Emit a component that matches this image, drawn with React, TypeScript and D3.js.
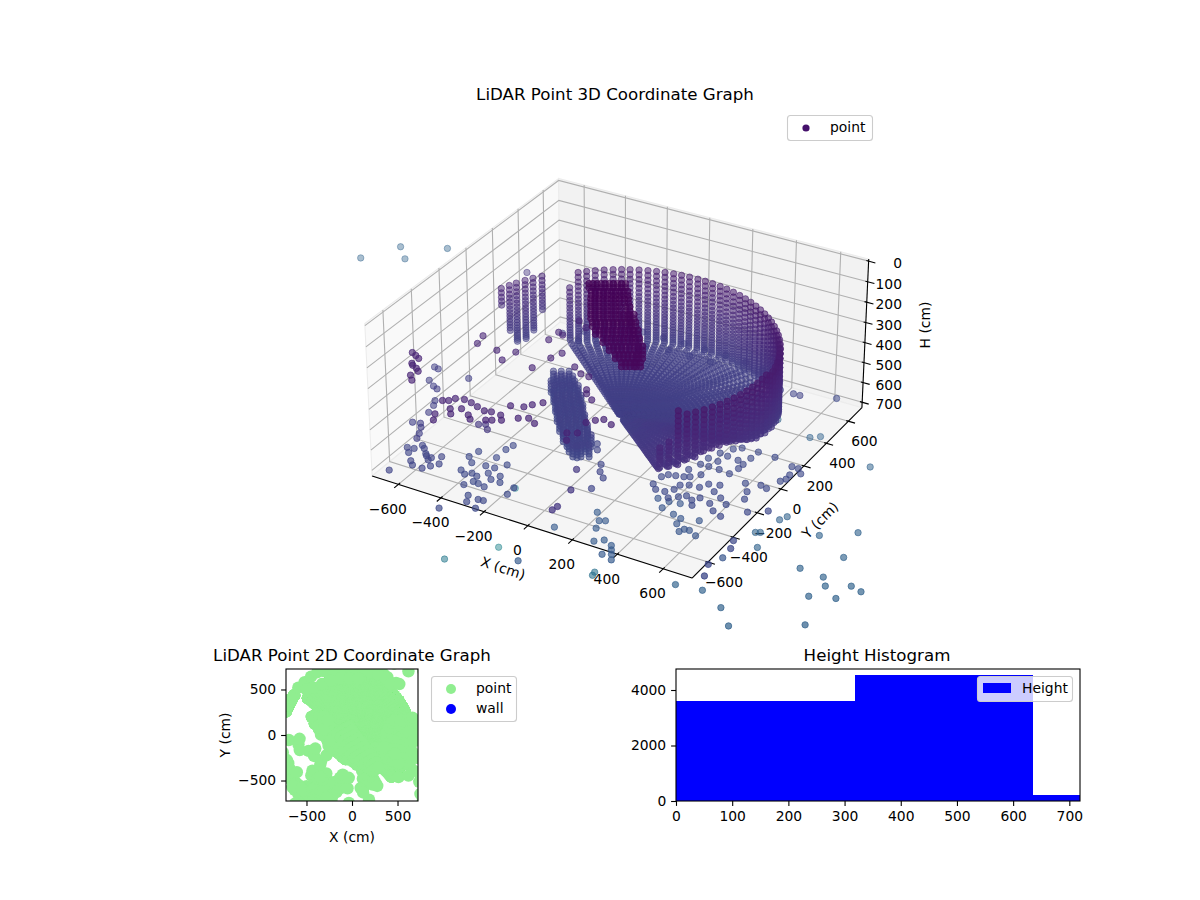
import React, { useRef, useEffect } from "react";
import * as d3 from "d3";

type Point = number[];

const atH = (h: number, xy: number[][]): Point[] => xy.map(([x, y]) => [x, y, h]);

const leftPurple = atH(300, [[-732,-400],[-707,-413],[-684,-427],[-686,-473],[-675,-484],[-649,-497],[-630,-513],[-639,-554],[-613,-584]]);
const leftBlue = atH(600, [[-867,-46],[-845,-52],[-826,-149],[-785,-180],[-760,-192],[-694,-55],[-716,-275],[-700,-310],[-687,-366],[-701,-463],[-669,-454],[-650,-479],[-617,-559],[-630,-522]]);
const leftFloor = atH(650, [[-656,-572],[-630,-602],[-588,-650],[-565,-673],[-519,-674],[-499,-644],[-478,-614],[-499,-563],[-530,-590],[-566,-575],[-612,-529],[-593,-545],[-628,-565],[-555,-587],[-532,-610],[-623,-751]]);
const midFloor = atH(700, [[-447,-444],[-413,-478],[-435,-392],[-420,-546],[-391,-565],[-370,-544],[-341,-554],[-352,-632],[-332,-594],[-307,-597],[-352,-470],[-314,-512],[-313,-466],[-348,-396],[-261,-508],[-280,-546],[-237,-548],[-274,-606],[-169,-554],[-282,-422],[-166,-607],[-245,-696],[-295,-690],[-275,-732],[-220,-755],[-343,-825],[-223,-693],[-348,-325],[-339,-284]]);
const purpleBand = atH(330, [[-450,-616],[-429,-604],[-415,-578],[-390,-654],[-367,-686],[-380,-567],[-344,-574],[-352,-632],[-304,-659],[-307,-588],[-267,-601],[-239,-594],[-195,-597],[-225,-658],[-204,-646],[-172,-628],[-281,-682],[-420,-716],[-400,-758],[-199,-518],[-124,-583],[-89,-563],[-49,-585],[-150,-499],[-130,-469],[-102,-435],[-477,-174],[-417,-230]]);
const bandBlue = atH(500, [[-377,-476],[-326,-492],[-353,-462],[-876,702],[130,-572],[187,-710],[198,-866],[203,-836]]);
const moundOuter = [[-440,198],[-412,214],[-384,230],[-408,126],[-380,142],[-352,158],[-324,174],[-358,64],[-330,80],[-302,96],[-274,112],[-312,1],[-284,17],[-256,33],[-228,49],[-266,-62],[-238,-46],[-210,-30],[-182,-14],[-217,-124],[-189,-108],[-161,-92],[-133,-76],[-164,-184],[-136,-168],[-108,-152],[-80,-136],[-104,-239],[-76,-223],[-48,-207],[-53,-263]];
const moundInner = [[-407,172],[-379,188],[-351,204],[-375,100],[-347,116],[-319,132],[-291,148],[-325,38],[-297,54],[-269,70],[-241,86],[-279,-25],[-251,-9],[-223,7],[-195,23],[-233,-88],[-205,-72],[-177,-56],[-149,-40],[-184,-150],[-156,-134],[-128,-118],[-100,-102],[-131,-210],[-103,-194],[-75,-178],[-47,-162],[-71,-265],[-43,-249],[-15,-233]];
const moundHeights = [620,635,650,665,680];
const centreFloor = atH(650, [[-14,-170],[10,-210],[78,-297],[102,-346],[136,-380],[136,-470],[325,743],[354,660],[388,635],[408,583],[484,573]]);
const centrePurple = atH(330, [[-588,-102],[-574,-166],[-403,-149],[-281,-223],[-257,-120],[-238,-64],[-341,3],[-338,76],[-312,64],[-138,-133],[-89,-168],[-6,-264],[-50,-172],[-314,198],[-262,164],[10,-291],[51,-321],[142,-448],[167,-426],[211,-445],[119,-480],[130,-563],[95,-583],[122,-631]]);
const lowerBlue = atH(900, [[-36,-470],[56,-291],[94,-341],[116,-329],[111,-394],[151,-479],[182,-452],[226,-544],[226,-472],[242,-499],[258,-526],[277,-560],[-34,-747]]);
const rightFloor = atH(700, [[291,-255],[319,-285],[358,-281],[392,-315],[757,-456],[774,-510],[752,-648],[777,-724],[382,-249],[387,-210],[418,-192],[461,-186],[423,-288],[447,-266],[480,-283],[500,-253],[499,-316],[552,-269],[589,-310],[633,-330],[611,-244],[570,-213],[526,-185],[481,-147],[523,-132],[293,-192],[309,-165],[338,-157],[370,-148],[391,-136],[360,-91],[421,-101],[382,-33],[418,-31],[387,23],[431,21],[465,-31],[515,-38],[528,14],[497,68],[529,51],[446,75],[409,81],[440,134],[467,159],[534,107],[538,164],[614,162],[603,-69],[638,-121],[655,-174],[709,-251],[663,-52],[693,-62],[775,-204],[715,13],[728,38],[726,73],[705,133],[760,102],[734,132],[620,700]]);
const rightLower = atH(850, [[251,-144],[301,-143],[300,-197],[362,-216],[402,-229],[407,-270],[442,-314],[452,-290],[473,-287],[513,-309],[473,-206],[347,-134],[679,-393]]);
const farBlue = atH(1000, [[510,-463],[620,-445],[739,-514],[823,-608],[278,850],[463,786],[498,815],[786,701],[647,154],[663,190],[606,23],[623,33],[664,-70],[838,131],[963,227],[879,-118],[993,37],[986,-128],[1021,-180],[1109,-130],[1159,-146],[997,-275],[1095,-236],[1073,-455],[1292,-456],[-2089,1180],[-1990,1367],[-1905,1276],[-1790,1463]]);
const tealFar: Point[] = [[-576,-42,1450],[-606,-409,1300],[-761,391,1450],[54,-328,1200],[50,-304,1200]];

// returns behind the wall: they only show on the 2D map
const behindWall = atH(640, [[-590,520],[-520,580],[-450,640],[-380,690],[-300,700],[-200,700],[-100,700],[0,700],[100,700],[200,690],[290,670],[370,620],[430,560],[520,560],[-500,500],[-420,520],[-330,560],[-230,600],[-130,620],[-30,620],[70,620]]);

// the dense object close to the sensor, one row per height, top to bottom
const nearRowsA = [
  [[-159,17],[-131,33],[-103,49],[-75,65],[-47,81]],
  [[-124,-26],[-96,-10],[-68,6],[-40,22],[-12,38]],
  [[-98,-73],[-70,-57],[-42,-41],[-14,-25],[17,-7]],
  [[-70,-120],[-42,-104],[-14,-88],[14,-72],[49,-52]],
  [[-42,-168],[-14,-152],[14,-136],[42,-120],[70,-104],[91,-92]],
  [[-9,-212],[19,-196],[47,-180],[75,-164],[103,-148],[124,-136]],
  [[29,-253],[57,-237],[85,-221],[114,-205],[141,-189],[159,-179]],
  [[82,-286],[110,-270],[138,-254],[166,-238],[191,-224]],
  [[130,-321],[158,-305],[186,-289],[214,-273],[228,-265]],
  [[178,-357],[206,-341],[234,-325],[255,-313]],
  [[226,-392],[254,-376],[275,-364]],
];
const nearRowsB = [
  [[-145,25],[-117,41],[-89,57],[-61,73],[-33,89]],
  [[-110,-18],[-82,-2],[-54,14],[-26,30],[2,46]],
  [[-84,-65],[-56,-49],[-28,-33],[0,-17],[31,1]],
  [[-56,-112],[-28,-96],[0,-80],[28,-64],[63,-44]],
  [[-28,-160],[0,-144],[28,-128],[56,-112],[84,-96],[105,-84]],
  [[5,-204],[33,-188],[61,-172],[89,-156],[117,-140],[138,-128]],
  [[43,-245],[71,-229],[99,-213],[128,-197],[155,-181],[173,-171]],
  [[96,-278],[124,-262],[152,-246],[180,-230],[205,-216]],
  [[144,-313],[172,-297],[200,-281],[228,-265],[242,-257]],
  [[192,-349],[220,-333],[248,-317],[269,-305]],
  [[240,-384],[268,-368],[289,-356]],
];
const nearHeights = [10,15,20,25,30,35,40,45,50,55,60];
const nearHeightsLow = [30,35,40,45,50,55,60,65,70,75,80];
const nearObject: Point[] = nearHeights.flatMap((h, i) => [
  ...atH(h, nearRowsA[i]),
  ...atH(h, nearRowsB[i]),
  ...atH(nearHeightsLow[i], nearRowsA[i]),
  ...atH(nearHeightsLow[i], nearRowsB[i]),
]);

// the round wall: one scan column per azimuth, with where each column starts and stops
const wallAzimuth = [140,136.6,133.3,130,126.6,123.2,120,116.8,113.4,110,106.7,103.4,100,96.8,93.5,90,86.8,83.5,80,76.8,73.4,70,66.7,63.4,60,56.7,53.3,50,46.8,43.4,40,36.7,33.4,30,26.8,23.4,20,16.7,13.3,10,6.7,3.4,0,-3.3,-6.6,-10,-13.4,-16.7,-20,-23.3,-26.6,-30,-33.4,-36.7,-40,-43.3,-46.6];
const wallRim = [300,240,235,235,235,235,235,235,235,235,235,235,235,235,235,235,235,235,235,235,235,235,235,235,235,235,235,235,235,235,235,235,235,235,230,230,230,225,225,225,225,220,220,220,220,215,215,215,210,210,210,205,205,205,200,320,360];
const wallFoot = [590,610,610,610,610,610,610,610,610,610,610,610,610,610,610,610,610,610,610,610,610,610,605,600,600,600,595,590,590,585,580,575,570,570,560,550,545,535,530,520,515,510,500,490,480,460,450,435,420,420,425,430,440,450,460,465,470];
const sideAzimuth = [160.4,157.3,154.7,151.5,148.7,145.6];
const sideRim = [310,310,310,310,310,310];
const sideFoot = [410,550,620,620,590,500];
const wallRadius = 630;
const sideRadius = 770;
const wallLevels = [200,224,248,272,296,318,340,362,382,402,420,438,456,472,488,504,518,532,546,558,570,582,594,604,614,624,634,644];
// the sweep inside the wall: radius and how far each ring has sunk towards the middle height
const sweepRadii = [610,590,570,550,530,510,490,470,450,430,410,390,370,350,330,310,290,270,250,230,210,190,170,150,130,110,90,70,50,30];
const sweepSink = [0.03,0.06,0.1,0.13,0.16,0.19,0.22,0.25,0.29,0.32,0.35,0.38,0.41,0.44,0.48,0.51,0.54,0.57,0.6,0.63,0.67,0.7,0.73,0.76,0.79,0.83,0.86,0.89,0.92,0.95];
const sweepMiddle = 610;

const wallPoints: Point[] = wallAzimuth.flatMap((az, i) => {
  const a = (az * Math.PI) / 180;
  const column = wallLevels
    .filter((h) => h >= wallRim[i] && h <= wallFoot[i])
    .map((h) => [wallRadius * Math.cos(a), wallRadius * Math.sin(a), h]);
  const sweep = sweepRadii.map((r, j) => [
    r * Math.cos(a),
    r * Math.sin(a),
    wallFoot[i] + (sweepMiddle - wallFoot[i]) * sweepSink[j],
  ]);
  return [...column, ...sweep];
});
const sidePoints: Point[] = sideAzimuth.flatMap((az, i) => {
  const a = (az * Math.PI) / 180;
  return wallLevels
    .filter((h) => h >= sideRim[i] && h <= sideFoot[i])
    .map((h) => [sideRadius * Math.cos(a), sideRadius * Math.sin(a), h]);
});

const points: Point[] = [
  ...wallPoints, ...sidePoints, ...leftPurple, ...leftBlue, ...leftFloor, ...midFloor,
  ...purpleBand, ...bandBlue,
  ...moundHeights.flatMap((h) => [...atH(h, moundOuter), ...atH(h, moundInner)]),
  ...centreFloor, ...centrePurple, ...lowerBlue, ...rightFloor, ...rightLower, ...farBlue, ...tealFar,
  ...behindWall, ...nearObject,
];

const xyTicks = [-600, -400, -200, 0, 200, 400, 600];
const hTicks = [0, 100, 200, 300, 400, 500, 600, 700];
const xyLimit = 725;
const hLimits = [-10, 728];

const mapTicks = [-500, 0, 500];
const histEdges = [0, 318, 635, 953];
const histCounts = [3610, 4540, 220];
const histXTicks = [0, 100, 200, 300, 400, 500, 600, 700];
const histYTicks = [0, 2000, 4000];

const FONT = "DejaVu Sans";
const TICK = 13.89;
const TITLE = 16.67;

const App = () => {
  const ref = useRef<SVGSVGElement | null>(null);

  useEffect(() => {
    if (!ref.current) return;
    const svg = d3.select(ref.current);
    svg.selectAll("*").remove();
    svg.attr("font-family", FONT);

    // same camera as the 3D axes: elev 30, azim -60, distance 10
    const boxXY = d3.scaleLinear().domain([-xyLimit, xyLimit]).range([-0.595, 0.595]);
    const boxH = d3.scaleLinear().domain(hLimits).range([0.285, -0.285]);
    const screenX = d3.scaleLinear().domain([-0.0817, 0.0787]).range([372, 862]);
    const screenY = d3.scaleLinear().domain([-0.03574, 0.01477]).range([476, 322]);
    const project = (x: number, y: number, h: number) => {
      const X = boxXY(x);
      const Y = boxXY(y);
      const Z = boxH(h);
      const depth = 10 - (0.433 * X - 0.75 * Y + 0.5 * Z);
      return [
        screenX((0.866 * X + 0.5 * Y) / depth),
        screenY((-0.25 * X + 0.433 * Y + 0.866 * Z) / depth),
        depth,
      ];
    };
    const path3d = d3.line<number[]>()
      .x((p) => project(p[0], p[1], p[2])[0])
      .y((p) => project(p[0], p[1], p[2])[1]);

    const lo = -xyLimit;
    const hi = xyLimit;
    const [hTop, hBottom] = hLimits;

    const g3 = svg.append("g");
    const panes = [
      { fill: "#f9f9f9", pts: [[lo, lo, hBottom], [lo, hi, hBottom], [lo, hi, hTop], [lo, lo, hTop]] },
      { fill: "#f2f2f2", pts: [[lo, hi, hBottom], [hi, hi, hBottom], [hi, hi, hTop], [lo, hi, hTop]] },
      { fill: "#f5f5f5", pts: [[lo, lo, hBottom], [hi, lo, hBottom], [hi, hi, hBottom], [lo, hi, hBottom]] },
    ];
    panes.forEach((p) => {
      g3.append("path")
        .attr("d", path3d(p.pts) + "Z")
        .attr("fill", p.fill)
        .attr("stroke", "#ececec")
        .attr("stroke-width", 1.1);
    });

    // Grid lines
    const grid = (pts: number[][]) =>
      g3.append("path")
        .attr("d", path3d(pts))
        .attr("fill", "none")
        .attr("stroke", "#b0b0b0")
        .attr("stroke-width", 1.1);
    xyTicks.forEach((t) => {
      grid([[t, lo, hBottom], [t, hi, hBottom], [t, hi, hTop]]);
      grid([[hi, t, hBottom], [lo, t, hBottom], [lo, t, hTop]]);
    });
    hTicks.forEach((t) => {
      grid([[lo, lo, t], [lo, hi, t], [hi, hi, t]]);
    });

    // Axis lines and ticks
    const black = (pts: number[][]) =>
      g3.append("path")
        .attr("d", path3d(pts))
        .attr("fill", "none")
        .attr("stroke", "#000")
        .attr("stroke-width", 1.1);
    black([[lo, lo, hBottom], [hi, lo, hBottom]]);
    black([[hi, lo, hBottom], [hi, hi, hBottom]]);
    black([[hi, hi, hBottom], [hi, hi, hTop]]);

    const label3d = (sx: number, sy: number, text: string, anchor = "middle") =>
      g3.append("text")
        .attr("x", sx)
        .attr("y", sy)
        .attr("dy", "0.36em")
        .attr("text-anchor", anchor)
        .attr("font-size", TICK)
        .text(text);

    const fmt = d3.format("d");
    xyTicks.forEach((t) => {
      black([[t, lo - 30, hBottom], [t, lo + 12, hBottom]]);
      const [ax, ay] = project(t, lo, hBottom);
      label3d(ax - 10.5, ay + 24.5, fmt(t));
      black([[hi - 10, t, hBottom], [hi + 30, t, hBottom]]);
      const [bx, by] = project(hi, t, hBottom);
      label3d(bx + 16, by + 20, fmt(t));
    });
    hTicks.forEach((t) => {
      black([[hi - 10, hi, t], [hi + 30, hi, t]]);
      const [, cy] = project(hi, hi, t);
      label3d(902, cy + 2, fmt(t), "end");
    });

    const rotated = (cx: number, cy: number, angle: number, text: string) =>
      g3.append("text")
        .attr("transform", `translate(${cx},${cy}) rotate(${angle})`)
        .attr("dy", "0.36em")
        .attr("text-anchor", "middle")
        .attr("font-size", TICK)
        .text(text);
    rotated(503, 568, 18, "X (cm)");
    rotated(820, 520, -45, "Y (cm)");
    rotated(925, 325, -90, "H (cm)");

    // Scatter, far points first, faded with depth
    const colour = d3.scaleSequential(d3.interpolateViridis).domain([0, 3200]);
    const fade = d3.scaleLinear().domain([9.4, 10.9]).range([0.76, 0.42]).clamp(true);
    const projected = points
      .map((p) => {
        const [sx, sy, depth] = project(p[0], p[1], p[2]);
        return { sx, sy, depth, h: p[2] };
      })
      .sort((a, b) => d3.descending(a.depth, b.depth));

    svg.append("clipPath").attr("id", "clip3d")
      .append("rect").attr("x", 150).attr("y", 100).attr("width", 930).attr("height", 536);

    svg.append("g")
      .attr("clip-path", "url(#clip3d)")
      .selectAll("circle")
      .data(projected)
      .enter()
      .append("circle")
      .attr("cx", (d) => d.sx)
      .attr("cy", (d) => d.sy)
      .attr("r", 3.2)
      .attr("fill", (d) => colour(d.h))
      .attr("stroke", (d) => colour(d.h))
      .attr("stroke-width", 1)
      .attr("fill-opacity", (d) => fade(d.depth))
      .attr("stroke-opacity", (d) => fade(d.depth));

    const title = (cx: number, y: number, text: string) =>
      svg.append("text")
        .attr("x", cx)
        .attr("y", y)
        .attr("text-anchor", "middle")
        .attr("font-size", TITLE)
        .text(text);
    title(615, 100, "LiDAR Point 3D Coordinate Graph");

    const legendBox = (x: number, y: number, w: number, h: number) =>
      svg.append("rect")
        .attr("x", x).attr("y", y).attr("width", w).attr("height", h)
        .attr("rx", 3)
        .attr("fill", "#fff").attr("fill-opacity", 0.8)
        .attr("stroke", "#ccc").attr("stroke-width", 1.1);
    const legendText = (x: number, y: number, text: string) =>
      svg.append("text")
        .attr("x", x).attr("y", y).attr("dy", "0.36em")
        .attr("font-size", TICK)
        .text(text);

    legendBox(787.5, 115.5, 85, 25);
    svg.append("circle").attr("cx", 806).attr("cy", 128).attr("r", 3.6).attr("fill", "#45106b");
    legendText(830, 127, "point");

    const styleAxis = (g: d3.Selection<SVGGElement, unknown, null, undefined>) => {
      g.selectAll("text").attr("font-size", TICK).attr("font-family", FONT).attr("fill", "#000");
      g.selectAll("line").attr("stroke", "#000").attr("stroke-width", 1.1);
      g.select(".domain").remove();
    };

    // 2D map
    const mapLeft = 286;
    const mapRight = 418;
    const mapTop = 669;
    const mapBottom = 801;
    const mapX = d3.scaleLinear().domain([-xyLimit, xyLimit]).range([mapLeft, mapRight]);
    const mapY = d3.scaleLinear().domain([-xyLimit, xyLimit]).range([mapBottom, mapTop]);

    svg.append("clipPath").attr("id", "clipMap")
      .append("rect").attr("x", mapLeft).attr("y", mapTop)
      .attr("width", mapRight - mapLeft).attr("height", mapBottom - mapTop);

    svg.append("g")
      .attr("clip-path", "url(#clipMap)")
      .selectAll("circle")
      .data(points)
      .enter()
      .append("circle")
      .attr("cx", (d) => mapX(d[0]))
      .attr("cy", (d) => mapY(d[1]))
      .attr("r", 6.2)
      .attr("fill", "#90ee90");

    svg.append("rect")
      .attr("x", mapLeft).attr("y", mapTop)
      .attr("width", mapRight - mapLeft).attr("height", mapBottom - mapTop)
      .attr("fill", "none").attr("stroke", "#000").attr("stroke-width", 1.1);

    svg.append("g")
      .attr("transform", `translate(0,${mapBottom})`)
      .call(d3.axisBottom(mapX).tickValues(mapTicks).tickSize(4.9).tickPadding(4.9).tickFormat((d) => fmt(d as number)))
      .call(styleAxis);
    svg.append("g")
      .attr("transform", `translate(${mapLeft},0)`)
      .call(d3.axisLeft(mapY).tickValues(mapTicks).tickSize(4.9).tickPadding(4.9).tickFormat((d) => fmt(d as number)))
      .call(styleAxis);

    title(352, 661, "LiDAR Point 2D Coordinate Graph");
    svg.append("text").attr("x", 352).attr("y", 842).attr("text-anchor", "middle").attr("font-size", TICK).text("X (cm)");
    svg.append("text")
      .attr("transform", "translate(225,735) rotate(-90)")
      .attr("dy", "0.36em")
      .attr("text-anchor", "middle")
      .attr("font-size", TICK)
      .text("Y (cm)");

    legendBox(431.5, 676.5, 85, 45);
    svg.append("circle").attr("cx", 451).attr("cy", 689).attr("r", 5).attr("fill", "#90ee90");
    svg.append("circle").attr("cx", 451).attr("cy", 709).attr("r", 5).attr("fill", "#0000ff");
    legendText(476, 688, "point");
    legendText(476, 708, "wall");

    // Height histogram
    const histLeft = 676;
    const histRight = 1080;
    const histX = d3.scaleLinear().domain([0, 719]).range([histLeft, histRight]);
    const histY = d3.scaleLinear().domain([0, 4757]).range([mapBottom, mapTop]);

    svg.append("clipPath").attr("id", "clipHist")
      .append("rect").attr("x", histLeft).attr("y", mapTop)
      .attr("width", histRight - histLeft).attr("height", mapBottom - mapTop);

    svg.append("g")
      .attr("clip-path", "url(#clipHist)")
      .selectAll("rect")
      .data(histCounts)
      .enter()
      .append("rect")
      .attr("x", (_, i) => histX(histEdges[i]))
      .attr("width", (_, i) => histX(histEdges[i + 1]) - histX(histEdges[i]))
      .attr("y", (d) => histY(d))
      .attr("height", (d) => mapBottom - histY(d))
      .attr("fill", "#0000ff")
      .attr("shape-rendering", "crispEdges");

    svg.append("rect")
      .attr("x", histLeft).attr("y", mapTop)
      .attr("width", histRight - histLeft).attr("height", mapBottom - mapTop)
      .attr("fill", "none").attr("stroke", "#000").attr("stroke-width", 1.1);

    svg.append("g")
      .attr("transform", `translate(0,${mapBottom})`)
      .call(d3.axisBottom(histX).tickValues(histXTicks).tickSize(4.9).tickPadding(4.9).tickFormat((d) => fmt(d as number)))
      .call(styleAxis);
    svg.append("g")
      .attr("transform", `translate(${histLeft},0)`)
      .call(d3.axisLeft(histY).tickValues(histYTicks).tickSize(4.9).tickPadding(4.9).tickFormat((d) => fmt(d as number)))
      .call(styleAxis);

    title(877, 661, "Height Histogram");
    legendBox(977.5, 676.5, 95, 25);
    svg.append("rect").attr("x", 983).attr("y", 683).attr("width", 28).attr("height", 10).attr("fill", "#0000ff");
    legendText(1022, 688, "Height");
  }, []);

  return (
    <svg
      ref={ref}
      width={1200}
      height={900}
      style={{ position: "absolute", left: 0, top: 0, background: "#fff" }}
    />
  );
};

export default App;
